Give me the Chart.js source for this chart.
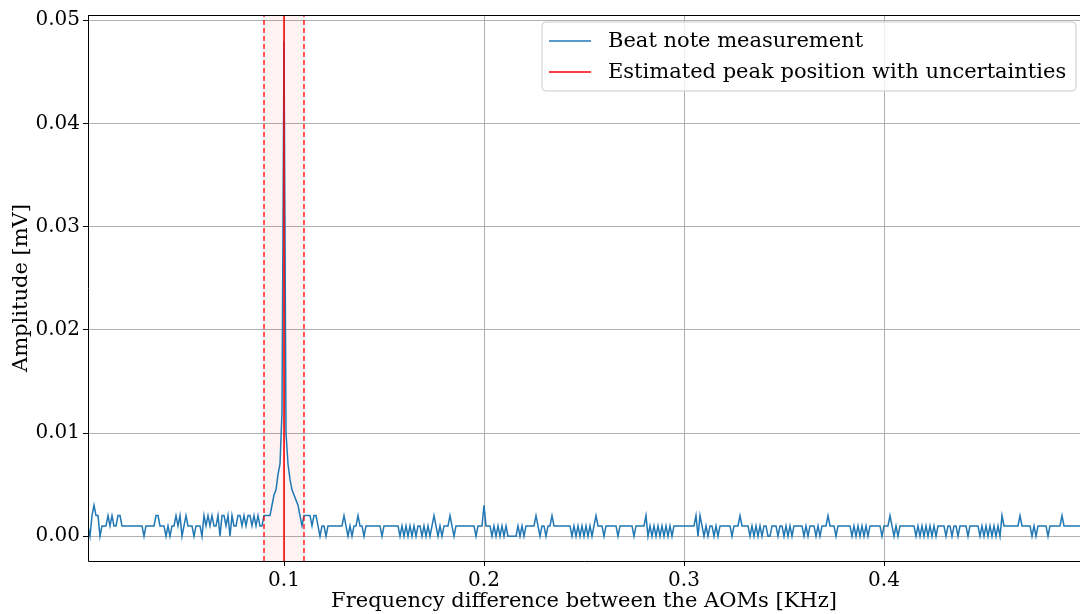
<!DOCTYPE html>
<html>
<head>
<meta charset="utf-8">
<script src="https://cdn.jsdelivr.net/npm/chart.js@4.4.1/dist/chart.umd.min.js"></script>
<style>
  html, body { margin: 0; padding: 0; background: #fff; overflow: hidden; }
</style>
</head>
<body>
<canvas id="beat-chart" width="1080" height="614"></canvas>
<script>
// frequency grid of the measurement [KHz]
const freqStart = 0.001;
const freqStep = 0.001;

// amplitude [mV], split by frequency band
const ampBand1 = [ // 0.001 - 0.088
  0.001,0.001,0,0.002,0.003,0.002,0.002,0,0.001,0.001,
  0.001,0.002,0.001,0.002,0.001,0.001,0.002,0.002,0.001,0.001,
  0.001,0.001,0.001,0.001,0.001,0.001,0.001,0.001,0.001,0,
  0.001,0.001,0.001,0.001,0.001,0.002,0.002,0.001,0.001,0.001,
  0,0.001,0,0.001,0.001,0.002,0.001,0.002,0,0.001,
  0.002,0.001,0.001,0.001,0,0.001,0.001,0.001,0,0.002,
  0.001,0.002,0.001,0.002,0.001,0.001,0.002,0,0.002,0.002,
  0.001,0.002,0,0.002,0.001,0.001,0.002,0.002,0.001,0.002,
  0.001,0.002,0.002,0.001,0.002,0.001,0.002,0.001
];
const ampPeak = [ // 0.089 - 0.111
  0.001,0.002,0.002,0.002,0.002,0.003,0.004,0.0045,0.006,0.007,
  0.012,0.048,0.010,0.007,0.0055,0.0045,0.004,0.0035,0.003,0.002,
  0.001,0.002,0.002
];
const ampBand2 = [ // 0.112 - 0.250
  0.002,0.002,0.001,0.002,0.002,0.001,0,0.001,0.001,0,
  0.001,0.001,0.001,0.001,0.001,0.001,0.001,0.001,0.002,0.001,
  0,0.001,0,0.001,0.001,0.002,0.001,0.001,0,0.001,
  0.001,0.001,0.001,0.001,0.001,0.001,0.001,0,0.001,0.001,
  0.001,0.001,0.001,0.001,0.001,0.001,0,0.001,0,0.001,
  0,0.001,0,0.001,0,0.001,0.001,0,0.001,0,
  0.001,0,0.001,0.002,0.001,0,0.001,0,0.001,0.001,
  0.001,0.002,0.001,0,0.001,0.001,0.001,0.001,0.001,0.001,
  0.001,0.001,0.001,0.001,0,0.001,0.001,0.001,0.003,0.001,
  0.001,0.001,0,0.001,0,0.001,0,0.001,0,0.001,
  0,0,0,0,0,0.001,0,0.001,0,0.001,
  0.001,0.001,0.001,0.001,0.002,0.001,0,0.001,0.001,0,
  0.001,0.001,0.002,0.001,0.001,0.001,0.001,0.001,0.001,0.001,
  0.001,0.001,0,0.001,0,0.001,0,0.001,0
];
const ampBand3 = [ // 0.251 - 0.499
  0.001,0,0.001,0,0.001,0.002,0.001,0.001,0.001,0,
  0.001,0.001,0.001,0.001,0.001,0.001,0,0.001,0.001,0.001,
  0.001,0.001,0.001,0.001,0,0.001,0.001,0.001,0.001,0.001,
  0.002,0,0.001,0,0.001,0,0.001,0,0.001,0,
  0.001,0,0.001,0,0.001,0.001,0.001,0.001,0.001,0.001,
  0.001,0.001,0.001,0.001,0.001,0.002,0,0.002,0.001,0,
  0.001,0,0.001,0.001,0,0.001,0,0.001,0.001,0.001,
  0.001,0.001,0.001,0,0.001,0.001,0.001,0.002,0.001,0.001,
  0.001,0.001,0,0.001,0,0.001,0,0.001,0,0.001,
  0.001,0,0,0.001,0.001,0.001,0,0.001,0.001,0,
  0.001,0,0.001,0,0.001,0.001,0.001,0.001,0.001,0,
  0.001,0,0.001,0.001,0.001,0,0.001,0,0.001,0.001,
  0.001,0.002,0.001,0.001,0.001,0,0.001,0.001,0.001,0.001,
  0.001,0.001,0.001,0,0.001,0,0.001,0,0.001,0,
  0.001,0,0.001,0.001,0.001,0.001,0.001,0.001,0,0.001,
  0.001,0.001,0.002,0.001,0,0.001,0,0.001,0.001,0.001,
  0.001,0.001,0.001,0.001,0.001,0,0.001,0,0.001,0,
  0.001,0,0.001,0,0.001,0,0.001,0.001,0.001,0.001,
  0,0.001,0.001,0,0.001,0.001,0,0.001,0.001,0.001,
  0.001,0,0.001,0.001,0.001,0.001,0.001,0,0.001,0,
  0.001,0,0.001,0,0.001,0,0.001,0,0.002,0.001,
  0.001,0.001,0.001,0.001,0.001,0.001,0.001,0.002,0.001,0.001,
  0.001,0.001,0.001,0,0.001,0,0.001,0.001,0.001,0.001,
  0.001,0,0.001,0.001,0.001,0.001,0.001,0.001,0.002,0.001,
  0.001,0.001,0.001,0.001,0.001,0.001,0.001,0.001,0.001
];

// fitted peak and its uncertainty [KHz]
const peakFreq = 0.1;
const peakErr = 0.01;

const xTicks = [0.1, 0.2, 0.3, 0.4];
const yTicks = [0, 0.01, 0.02, 0.03, 0.04, 0.05];
const xMin = 0.002, xMax = 0.498;
const yMin = -0.0024, yMax = 0.0505;

const amplitudes = [...ampBand1, ...ampPeak, ...ampBand2, ...ampBand3];
const beatPoints = amplitudes.map((a, k) => ({ x: +(freqStart + k * freqStep).toFixed(3), y: a }));

const vline = x => [{ x: x, y: yMin }, { x: x, y: yMax }];

const FONT = '"DejaVu Serif", "Liberation Serif", serif';

// uncertainty band behind the lines
const spanPlugin = {
  id: 'span',
  beforeDatasetsDraw(chart) {
    const { ctx, chartArea, scales } = chart;
    const x0 = scales.x.getPixelForValue(peakFreq - peakErr);
    const x1 = scales.x.getPixelForValue(peakFreq + peakErr);
    ctx.save();
    ctx.fillStyle = 'rgba(255, 0, 0, 0.05)';
    ctx.fillRect(x0, chartArea.top, x1 - x0, chartArea.bottom - chartArea.top);
    ctx.restore();
  }
};

// axes frame + legend box like matplotlib
const framePlugin = {
  id: 'frame',
  afterDatasetsDraw(chart) {
    const { ctx, chartArea: a } = chart;
    ctx.save();
    ctx.strokeStyle = '#000';
    ctx.lineWidth = 1;
    ctx.beginPath();
    ctx.moveTo(a.left + 0.5, a.top + 0.5);
    ctx.lineTo(a.left + 0.5, a.bottom + 0.5);
    ctx.lineTo(a.right, a.bottom + 0.5);
    ctx.moveTo(a.left, a.top + 0.5);
    ctx.lineTo(a.right, a.top + 0.5);
    ctx.stroke();

    // legend
    const bx = 542, by = 22, bw = 534, bh = 69, r = 4;
    ctx.beginPath();
    ctx.moveTo(bx + r, by);
    ctx.arcTo(bx + bw, by, bx + bw, by + bh, r);
    ctx.arcTo(bx + bw, by + bh, bx, by + bh, r);
    ctx.arcTo(bx, by + bh, bx, by, r);
    ctx.arcTo(bx, by, bx + bw, by, r);
    ctx.closePath();
    ctx.fillStyle = 'rgba(255,255,255,0.8)';
    ctx.fill();
    ctx.strokeStyle = '#cccccc';
    ctx.lineWidth = 1;
    ctx.stroke();

    const items = chart.data.datasets.filter(d => d.label);
    items.forEach((d, i) => {
      const y = 41 + i * 31;
      ctx.strokeStyle = d.borderColor;
      ctx.lineWidth = 1.5;
      ctx.setLineDash([]);
      ctx.beginPath();
      ctx.moveTo(549, y);
      ctx.lineTo(591, y);
      ctx.stroke();
      ctx.fillStyle = '#000';
      ctx.font = '21px ' + FONT;
      ctx.textBaseline = 'middle';
      ctx.fillText(d.label, 608, y + 1);
    });
    ctx.restore();
  }
};

new Chart(document.getElementById('beat-chart').getContext('2d'), {
  type: 'line',
  data: {
    datasets: [
      {
        label: 'Beat note measurement',
        data: beatPoints,
        borderColor: '#1f77b4',
        borderWidth: 1.5,
        pointRadius: 0,
        tension: 0,
        order: 2
      },
      {
        label: 'Estimated peak position with uncertainties',
        data: vline(peakFreq),
        borderColor: '#ff0000',
        borderWidth: 1.5,
        pointRadius: 0,
        order: 0
      },
      {
        label: '',
        data: vline(peakFreq - peakErr),
        borderColor: '#ff0000',
        borderWidth: 1.3,
        borderDash: [5, 3],
        pointRadius: 0,
        order: 1
      },
      {
        label: '',
        data: vline(peakFreq + peakErr),
        borderColor: '#ff0000',
        borderWidth: 1.3,
        borderDash: [5, 3],
        pointRadius: 0,
        order: 1
      }
    ]
  },
  options: {
    responsive: false,
    animation: false,
    layout: { padding: { top: 13, right: 0, left: 0, bottom: 0 } },
    plugins: {
      legend: { display: false },
      tooltip: { enabled: false }
    },
    scales: {
      x: {
        type: 'linear',
        min: xMin,
        max: xMax,
        afterBuildTicks: s => { s.ticks = xTicks.map(v => ({ value: v })); },
        afterFit: s => { s.height = 53; },
        border: { display: false },
        grid: { color: '#b0b0b0', lineWidth: 1, tickLength: 5, tickColor: '#000' },
        ticks: {
          color: '#000',
          font: { family: FONT, size: 20 },
          padding: 3,
          maxRotation: 0,
          callback: v => v.toFixed(1)
        },
        title: {
          display: true,
          text: 'Frequency difference between the AOMs [KHz]',
          color: '#000',
          font: { family: FONT, size: 21 },
          padding: { top: 0, bottom: 0 }
        }
      },
      y: {
        min: yMin,
        max: yMax,
        afterBuildTicks: s => { s.ticks = yTicks.map(v => ({ value: v })); },
        afterFit: s => { s.width = 88; },
        border: { display: false },
        grid: { color: '#b0b0b0', lineWidth: 1, tickLength: 5, tickColor: '#000' },
        ticks: {
          color: '#000',
          font: { family: FONT, size: 20 },
          padding: 3,
          callback: v => v.toFixed(2)
        },
        title: {
          display: true,
          text: 'Amplitude [mV]',
          color: '#000',
          font: { family: FONT, size: 21 },
          padding: { top: 9, bottom: 0 }
        }
      }
    }
  },
  plugins: [spanPlugin, framePlugin]
});
</script>
</body>
</html>
